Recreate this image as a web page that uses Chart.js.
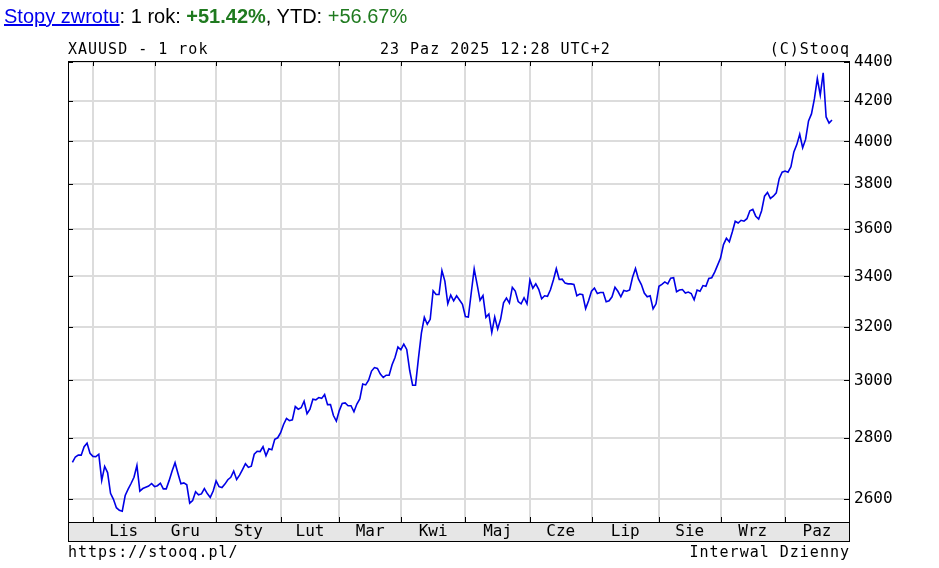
<!DOCTYPE html>
<html>
<head>
<meta charset="utf-8">
<script src="https://cdn.jsdelivr.net/npm/chart.js@4.4.1/dist/chart.umd.min.js"></script>
<style>
  body { margin: 0; background: #fff; width: 939px; height: 568px; position: relative; overflow: hidden; }
  #c { position: absolute; left: 0; top: 0; }
  .t { position: absolute; font-family: "DejaVu Sans Mono", monospace; font-size: 15px; line-height: 15px;
       letter-spacing: 1px; color: #000; white-space: pre; }
  #title { position: absolute; left: 4px; top: 6px; font-family: "Liberation Sans", Arial, sans-serif;
           font-size: 20px; line-height: 20px; color: #000; white-space: nowrap; }
  #title .lnk { color: #0000ee; text-decoration: underline; }
  #title .g { color: #1f7a1f; }
</style>
</head>
<body>
<canvas id="c" width="939" height="568"></canvas>
<div id="title"><span class="lnk">Stopy zwrotu</span>: 1 rok: <b class="g">+51.42%</b>, YTD: <span class="g">+56.67%</span></div>
<div class="t" style="left:68px;top:42px">XAUUSD - 1 rok</div>
<div class="t" style="left:380px;top:42px">23 Paz 2025 12:28 UTC+2</div>
<div class="t" style="right:89px;top:42px">(C)Stooq</div>
<div class="t" style="left:68px;top:545px">https://stooq.pl/</div>
<div class="t" style="right:89px;top:545px">Interwal Dzienny</div>
<script>
// daily closes XAUUSD, one array per month (Oct 2024 .. Oct 2025)
const oct24 = [2718, 2736, 2742, 2742, 2770, 2782, 2748];
const nov24 = [2738, 2737, 2745, 2660, 2705, 2685, 2619, 2600, 2574, 2566, 2563, 2612, 2632, 2650, 2670, 2708, 2626, 2634, 2638, 2642, 2650];
const dec24 = [2640, 2643, 2651, 2633, 2633, 2660, 2690, 2717, 2682, 2649, 2652, 2646, 2588, 2596, 2624, 2614, 2617, 2634, 2618, 2606, 2626];
const jan25 = [2658, 2640, 2637, 2648, 2662, 2670, 2690, 2663, 2677, 2695, 2714, 2702, 2706, 2745, 2755, 2754, 2770, 2740, 2763, 2760, 2795, 2800];
const feb25 = [2817, 2845, 2866, 2858, 2861, 2907, 2898, 2903, 2926, 2882, 2898, 2933, 2931, 2939, 2936, 2950, 2914, 2914, 2876, 2857];
const mar25 = [2893, 2918, 2920, 2910, 2910, 2889, 2916, 2934, 2987, 2984, 3001, 3034, 3047, 3044, 3023, 3011, 3019, 3019, 3057, 3084, 3123];
const apr25 = [3113, 3134, 3114, 3037, 2983, 2983, 3082, 3176, 3237, 3210, 3229, 3342, 3327, 3327, 3424, 3381, 3290, 3325, 3302, 3322, 3305, 3288];
const may25 = [3240, 3238, 3334, 3431, 3368, 3304, 3323, 3237, 3250, 3179, 3238, 3192, 3229, 3294, 3313, 3293, 3356, 3341, 3299, 3290, 3314, 3290];
const jun25 = [3386, 3352, 3370, 3348, 3310, 3322, 3320, 3346, 3386, 3432, 3388, 3389, 3373, 3370, 3370, 3368, 3322, 3329, 3326, 3271, 3302];
const jul25 = [3340, 3353, 3331, 3335, 3335, 3298, 3302, 3318, 3356, 3340, 3318, 3343, 3340, 3345, 3397, 3433, 3390, 3367, 3333, 3318, 3322, 3270, 3290];
const aug25 = [3360, 3368, 3378, 3370, 3393, 3395, 3338, 3345, 3347, 3333, 3337, 3331, 3306, 3345, 3340, 3363, 3360, 3392, 3395, 3418, 3447];
const sep25 = [3476, 3533, 3560, 3545, 3587, 3634, 3626, 3638, 3634, 3645, 3680, 3686, 3656, 3643, 3680, 3745, 3762, 3735, 3745, 3760, 3825, 3855];
const oct25 = [3860, 3855, 3880, 3950, 3985, 4035, 3970, 4010, 4100, 4135, 4210, 4315, 4230, 4345, 4120, 4090, 4105];

const monthLabels = ['Lis', 'Gru', 'Sty', 'Lut', 'Mar', 'Kwi', 'Maj', 'Cze', 'Lip', 'Sie', 'Wrz', 'Paz'];
const yTicks = [2600, 2800, 3000, 3200, 3400, 3600, 3800, 4000, 4200, 4400];

const monthly = [oct24, nov24, dec24, jan25, feb25, mar25, apr25, may25, jun25, jul25, aug25, sep25, oct25];
const closes = monthly.flat();

// index of first session of each month (Nov .. Oct)
let monthStarts = [];
let n = 0;
for (let i = 0; i < monthly.length - 1; i++) {
    n += monthly[i].length;
    monthStarts.push(n);
}

const xMin = -1.5;
const xMax = 264.8;
let labelPos = monthStarts.map((s, i) => (s + (i + 1 < monthStarts.length ? monthStarts[i + 1] : xMax)) / 2);

const monoFont = { family: 'DejaVu Sans Mono', size: 16 };

// frame, band border and small inner tick marks
const frame = {
    id: 'frame',
    afterDraw(chart) {
        const ctx = chart.ctx;
        const a = chart.chartArea;
        const band = chart.scales.x;
        ctx.save();
        ctx.strokeStyle = '#000';
        ctx.lineWidth = 1;
        ctx.strokeRect(a.left + 0.5, a.top + 0.5, a.right - a.left, band.bottom - a.top);
        ctx.beginPath();
        ctx.moveTo(a.left, a.bottom + 0.5);
        ctx.lineTo(a.right + 1, a.bottom + 0.5);
        monthStarts.forEach(v => {
            const px = Math.round(chart.scales.xg.getPixelForValue(v)) + 0.5;
            ctx.moveTo(px, a.bottom);
            ctx.lineTo(px, a.bottom - 5);
            ctx.moveTo(px, a.top);
            ctx.lineTo(px, a.top + 5);
        });
        yTicks.forEach(v => {
            const py = Math.round(chart.scales.y.getPixelForValue(v)) + 0.5;
            ctx.moveTo(a.left, py);
            ctx.lineTo(a.left + 5, py);
            ctx.moveTo(a.right - 5, py);
            ctx.lineTo(a.right, py);
        });
        ctx.stroke();
        ctx.restore();
    }
};

new Chart(document.getElementById('c'), {
    type: 'line',
    data: {
        datasets: [{
            data: closes.map((v, i) => ({ x: i, y: v })),
            borderColor: '#0000e6',
            borderWidth: 1.6,
            pointRadius: 0,
            tension: 0,
            xAxisID: 'x',
            yAxisID: 'y'
        }]
    },
    options: {
        responsive: false,
        animation: false,
        events: [],
        layout: { padding: { left: 68, top: 61, right: 0, bottom: 27 } },
        plugins: { legend: { display: false }, tooltip: { enabled: false } },
        scales: {
            x: {
                type: 'linear',
                position: 'bottom',
                min: xMin,
                max: xMax,
                backgroundColor: '#e6e6e6',
                grid: { display: false, drawTicks: false },
                border: { display: false },
                afterBuildTicks: s => { s.ticks = labelPos.map(v => ({ value: v })); },
                afterFit: s => { s.height = 19; },
                ticks: {
                    autoSkip: false,
                    maxRotation: 0,
                    padding: 0,
                    color: '#000',
                    font: monoFont,
                    callback: (v, i) => monthLabels[i]
                }
            },
            xg: {
                type: 'linear',
                position: 'bottom',
                min: xMin,
                max: xMax,
                grid: { color: '#dcdcdc', lineWidth: 2, drawTicks: false },
                border: { display: false },
                ticks: { display: false },
                afterBuildTicks: s => { s.ticks = monthStarts.map(v => ({ value: v })); },
                afterFit: s => { s.height = 0; }
            },
            y: {
                type: 'logarithmic',
                position: 'right',
                min: 2530,
                max: 4407,
                grid: { color: '#dcdcdc', lineWidth: 2, drawTicks: false },
                border: { display: false },
                afterBuildTicks: s => { s.ticks = yTicks.map(v => ({ value: v })); },
                afterFit: s => { s.width = 90; },
                ticks: {
                    autoSkip: false,
                    padding: 5,
                    color: '#000',
                    font: monoFont,
                    callback: v => String(v)
                }
            }
        }
    },
    plugins: [frame]
});
</script>
</body>
</html>
